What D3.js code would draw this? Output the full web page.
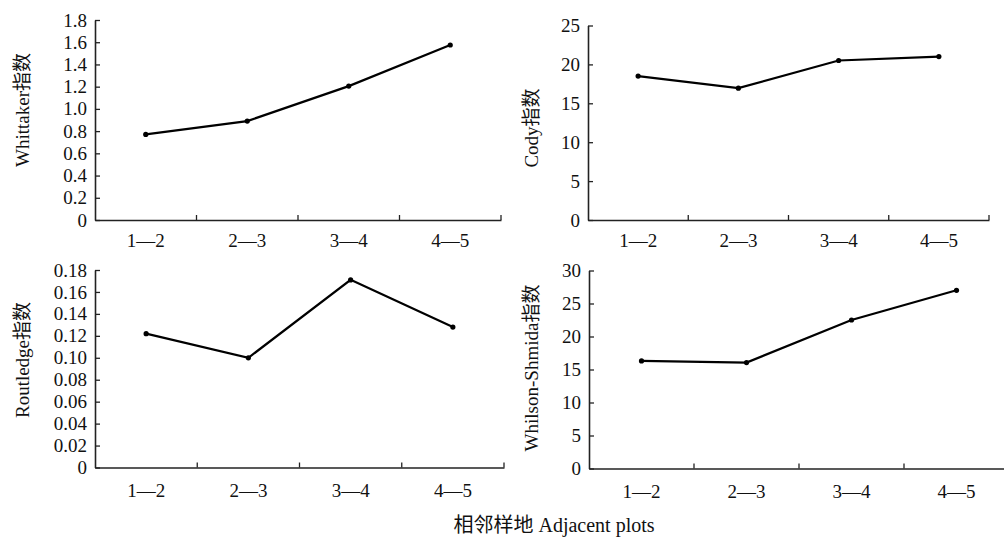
<!DOCTYPE html>
<html lang="zh">
<head>
<meta charset="UTF-8">
<title>Adjacent plots indices</title>
<script src="https://cdn.jsdelivr.net/npm/d3@7"></script>
<style>
  html, body { margin: 0; padding: 0; background: #fff; }
  svg text { font-family: 'Liberation Serif', 'Times New Roman', 'Noto Sans CJK SC', serif; fill: #111; }
</style>
</head>
<body>
<svg id="chart" width="1004" height="538"></svg>
<script>
// data
var pairs = ['1—2', '2—3', '3—4', '4—5'];
var whittaker = [0.77, 0.89, 1.205, 1.575];
var cody = [18.5, 16.95, 20.5, 21.0];
var routledge = [0.122, 0.100, 0.171, 0.128];
var whilsonShmida = [16.3, 16.05, 22.5, 27.0];

var whittakerTicks = [0, 0.2, 0.4, 0.6, 0.8, 1.0, 1.2, 1.4, 1.6, 1.8];
var codyTicks = [0, 5, 10, 15, 20, 25];
var routledgeTicks = [0, 0.02, 0.04, 0.06, 0.08, 0.10, 0.12, 0.14, 0.16, 0.18];
var wsTicks = [0, 5, 10, 15, 20, 25, 30];

var fs = '19px';
var svg = d3.select('#chart');

var panels = [
  {values: whittaker, ticks: whittakerTicks, fmt: '.1f', label: 'Whittaker指数',
   left: 95, right: 501, top: 20, bottom: 220, labelX: 22, labelY: 110, xPad: 14},
  {values: cody, ticks: codyTicks, fmt: 'd', label: 'Cody指数',
   left: 588, right: 989, top: 25.5, bottom: 220, labelX: 531, labelY: 128, xPad: 14},
  {values: routledge, ticks: routledgeTicks, fmt: '.2f', label: 'Routledge指数',
   left: 95, right: 504, top: 270, bottom: 467.5, labelX: 22, labelY: 360, xPad: 16},
  {values: whilsonShmida, ticks: wsTicks, fmt: 'd', label: 'Whilson-Shmida指数',
   left: 589, right: 1009, top: 270.5, bottom: 468.5, labelX: 531, labelY: 368, xPad: 16}
];

panels.forEach(function(p) {
  var x = d3.scaleBand().domain(pairs).range([p.left, p.right]);
  var y = d3.scaleLinear()
      .domain([0, p.ticks[p.ticks.length - 1]])
      .range([p.bottom, p.top]);
  var f = d3.format(p.fmt);

  var g = svg.append('g');

  // y axis, ticks pointing inward
  var ya = g.append('g')
      .attr('transform', 'translate(' + p.left + ',0)')
      .call(d3.axisLeft(y).tickValues(p.ticks).tickSize(-5).tickSizeOuter(0).tickPadding(8)
        .tickFormat(function(d) { return d === 0 ? '0' : f(d); }));

  // x axis, ticks at band edges pointing up
  var xa = g.append('g')
      .attr('transform', 'translate(0,' + p.bottom + ')')
      .call(d3.axisBottom(x).tickSize(0).tickPadding(p.xPad));

  var edges = pairs.map(function(c) { return x(c) + x.bandwidth(); });
  g.selectAll('.xtick').data(edges).enter().append('line')
      .attr('x1', function(d) { return d; }).attr('x2', function(d) { return d; })
      .attr('y1', p.bottom).attr('y2', p.bottom - 5)
      .attr('stroke', '#222').attr('stroke-width', 1.3);

  [ya, xa].forEach(function(a) {
    a.select('.domain').attr('stroke', '#222').attr('stroke-width', 1.6);
    a.selectAll('.tick line').attr('stroke', '#222').attr('stroke-width', 1.3);
    a.selectAll('text').style('font-size', fs).attr('fill', '#111');
  });

  var line = d3.line()
      .x(function(d, i) { return x(pairs[i]) + x.bandwidth() / 2; })
      .y(function(d) { return y(d); });

  g.append('path')
      .datum(p.values)
      .attr('d', line)
      .attr('fill', 'none')
      .attr('stroke', '#000')
      .attr('stroke-width', 2.2);

  g.selectAll('.dot').data(p.values).enter().append('circle')
      .attr('cx', function(d, i) { return x(pairs[i]) + x.bandwidth() / 2; })
      .attr('cy', function(d) { return y(d); })
      .attr('r', 2.6)
      .attr('fill', '#000');

  g.append('text')
      .attr('transform', 'translate(' + p.labelX + ',' + p.labelY + ') rotate(-90)')
      .attr('text-anchor', 'middle')
      .attr('dy', '0.35em')
      .style('font-size', fs)
      .text(p.label);
});

svg.append('text')
    .attr('x', 554)
    .attr('y', 532)
    .attr('text-anchor', 'middle')
    .style('font-size', '20px')
    .text('相邻样地 Adjacent plots');
</script>
</body>
</html>
